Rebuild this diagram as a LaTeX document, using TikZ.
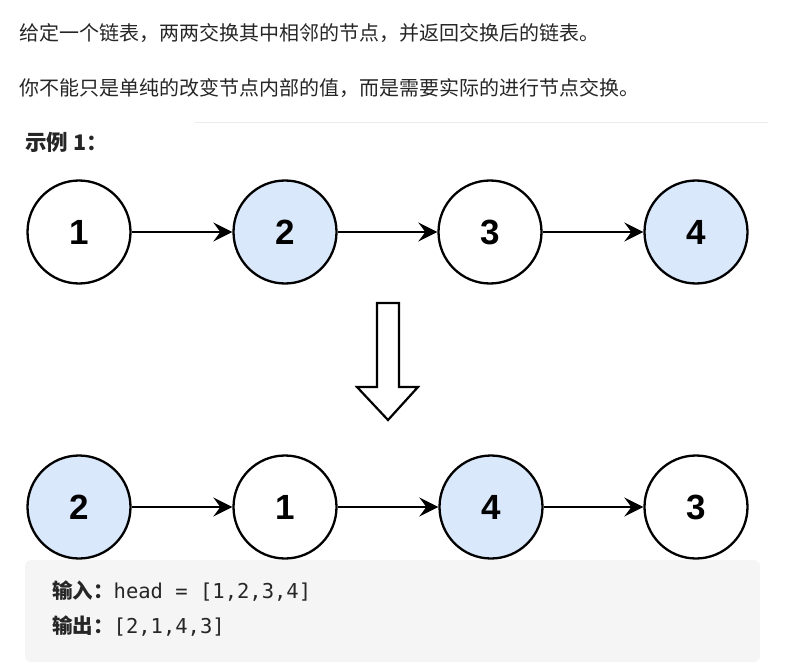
\documentclass[tikz,border=0pt]{standalone}
\usepackage{fontspec}
\usepackage{tikz}
\usetikzlibrary{arrows.meta}
\newfontfamily\cjk{Noto Sans CJK SC}
\newfontfamily\digitfont{Liberation Sans}
\setmonofont{DejaVu Sans Mono}

\definecolor{nodeblue}{HTML}{DAE8FC}
\definecolor{textgray}{RGB}{38,38,38}
\definecolor{boxgray}{HTML}{F5F5F5}
\definecolor{rulegray}{HTML}{EBEBEB}

\tikzset{
  listnode/.style={circle, draw=black, line width=2.3pt, minimum size=103pt,
    inner sep=0pt, font=\digitfont\bfseries\fontsize{35}{35}\selectfont},
  swapped/.style={listnode, fill=nodeblue},
  link/.style={line width=2.2pt, -{Stealth[length=19pt,width=19pt,inset=7pt]}},
  prose/.style={anchor=west, inner sep=0pt, text=textgray,
    font=\cjk\fontsize{20}{20}\selectfont},
  codeline/.style={anchor=base west, inner sep=0pt, text=textgray,
    font=\fontsize{20.5}{20.5}\selectfont},
}

\begin{document}
\begin{tikzpicture}[x=1pt, y=-1pt]
        \useasboundingbox (0,0) rectangle (787,671);

        \node[prose] (task) at (19,33) {给定一个链表，两两交换其中相邻的节点，并返回交换后的链表。};
        \node[prose] (rule) at (19,88) {你不能只是单纯的改变节点内部的值，而是需要实际的进行节点交换。};

        \draw [rulegray, line width=1pt] (195,123) -- (768,123);
        \node[prose, font=\cjk\bfseries\fontsize{21.5}{21.5}\selectfont] (title) at (25,142) {示例 1：};

        % before
        \node[listnode] (a1) at (79,232) {1};
        \node[swapped] (a2) at (285,232) {2};
        \node[listnode] (a3) at (490,232) {3};
        \node[swapped] (a4) at (696,232) {4};

        \draw [link] (a1) -- (a2);
        \draw [link] (a2) -- (a3);
        \draw [link] (a3) -- (a4);

        \draw [black, line width=2.2pt, line join=miter]
          (377,303) -- (399,303) -- (399,387) -- (418,387) -- (388,420)
          -- (357,387) -- (377,387) -- cycle;

        % after
        \node[swapped] (b2) at (79,507) {2};
        \node[listnode] (b1) at (285,507) {1};
        \node[swapped] (b4) at (491,507) {4};
        \node[listnode] (b3) at (696,507) {3};

        \draw [link] (b2) -- (b1);
        \draw [link] (b1) -- (b4);
        \draw [link] (b4) -- (b3);

        \fill [boxgray, rounded corners=6pt] (25,560) rectangle (760,662);

        \node[codeline] (input) at (52,598) {{\cjk\bfseries 输入：}\ttfamily head = [1,2,3,4]};
        \node[codeline] (output) at (52,633) {{\cjk\bfseries 输出：}\ttfamily [2,1,4,3]};

\end{tikzpicture}
\end{document}
